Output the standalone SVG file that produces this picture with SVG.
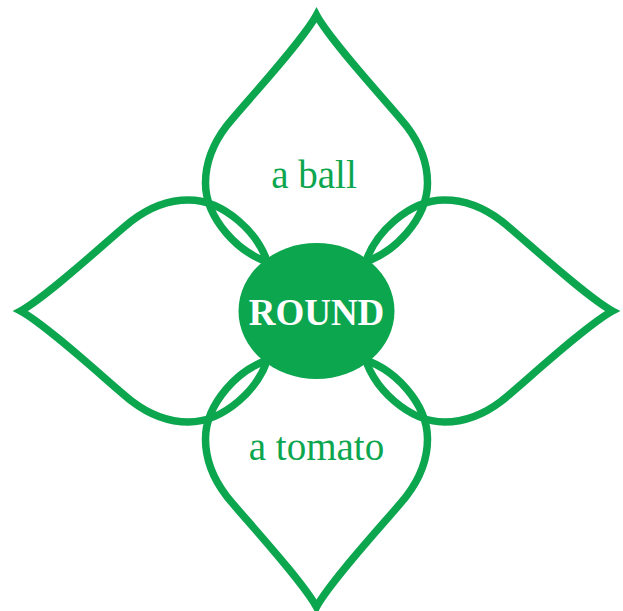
<svg xmlns="http://www.w3.org/2000/svg" width="623" height="611" viewBox="0 0 623 611">
<style>
.petal{fill:none;stroke:#0ca64f;stroke-width:7.5;stroke-linejoin:miter;stroke-miterlimit:6}
.lbl{font-family:"Liberation Serif","Times New Roman",serif;font-size:39px;fill:#0ca64f;text-anchor:middle}
.core{fill:#0ca64f}
.ctext{font-family:"Liberation Serif","Times New Roman",serif;font-size:37px;font-weight:bold;fill:#ffffff;text-anchor:middle}
</style>
<defs>
<path id="petalShape" d="M -38,-46 C -80,-55 -111,-95 -111,-128 C -111,-150 -103,-168 -90,-185 C -77,-202 -15,-268 0,-296 C 15,-268 77,-202 90,-185 C 103,-168 111,-150 111,-128 C 111,-95 80,-55 38,-46"/>
</defs>
<rect width="623" height="611" fill="#ffffff"/>
<g transform="translate(316.5,311)">
<g id="petal-top"><use href="#petalShape" class="petal"/></g>
<g id="petal-right"><use href="#petalShape" class="petal" transform="rotate(90)"/></g>
<g id="petal-bottom"><use href="#petalShape" class="petal" transform="rotate(180)"/></g>
<g id="petal-left"><use href="#petalShape" class="petal" transform="rotate(270)"/></g>
</g>
<g id="label-ball"><text class="lbl" x="314" y="188">a ball</text></g>
<g id="label-tomato"><text class="lbl" x="316.5" y="460">a tomato</text></g>
<g id="center-round">
<ellipse class="core" cx="316.5" cy="311" rx="78" ry="68"/>
<text class="ctext" x="316.5" y="325">ROUND</text>
</g>
</svg>
